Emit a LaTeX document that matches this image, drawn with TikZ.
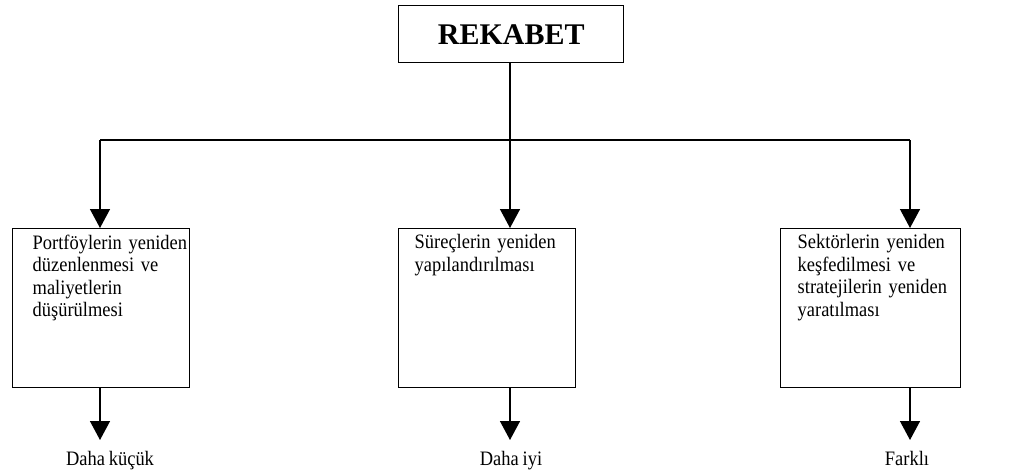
\documentclass[tikz,border=0pt]{standalone}
\usepackage{fontspec}
\setmainfont{Liberation Serif}
\newfontfamily\boxfont[FakeStretch=0.9,WordSpace=0.85]{Liberation Serif}
\usetikzlibrary{arrows.meta}
\begin{document}
\begin{tikzpicture}[x=1pt,y=-1pt,
  line width=1.4pt,
  box/.style={draw, rectangle, line width=1.4pt, inner sep=0pt, anchor=north west},
  boxtext/.style={anchor=north west, inner sep=0pt, text width=200pt, align=left,
    font=\boxfont\fontsize{20.5}{22.5}\selectfont},
  label/.style={anchor=base, inner sep=0pt, font=\boxfont\fontsize{20.5}{22.5}\selectfont},
  arr/.style={-{Triangle[length=19pt,width=20pt]}, line width=1.4pt}]
\useasboundingbox (0,0) rectangle (1011,472);

% heading box
\node[box, minimum width=225pt, minimum height=57pt] (top) at (398,5) {};
\node[inner sep=0pt, font=\fontsize{30}{34}\selectfont\bfseries] (title) at (top.center) {REKABET};

% distribution line
\coordinate (bus)  at (510,140);
\coordinate (busL) at (100,140);
\coordinate (busR) at (910,140);

% three boxes
\node[box, minimum width=177pt, minimum height=159pt] (b1) at (12,228) {};
\node[box, minimum width=177pt, minimum height=159pt] (b2) at (398,228) {};
\node[box, minimum width=180pt, minimum height=159pt] (b3) at (780,228) {};

\node[boxtext] (t1) at (32,234) {Portföylerin yeniden\\düzenlenmesi ve\\maliyetlerin\\düşürülmesi};
\node[boxtext] (t2) at (414,234) {Süreçlerin yeniden\\yapılandırılması};
\node[boxtext] (t3) at (797,234) {Sektörlerin yeniden\\keşfedilmesi ve\\stratejilerin yeniden\\yaratılması};

% results
\node[label] (r1) at (110,465) {Daha küçük};
\node[label] (r2) at (511,465) {Daha iyi};
\node[label] (r3) at (907,465) {Farklı};
\coordinate (e1) at (100,440);
\coordinate (e2) at (510,440);
\coordinate (e3) at (910,440);

% connectors
\draw (top.south -| bus) -- (bus);
\draw (busL) -- (busR);
\draw[arr] (busL) -- (busL |- b1.north);
\draw[arr] (bus)  -- (bus |- b2.north);
\draw[arr] (busR) -- (busR |- b3.north);
\draw[arr] (e1 |- b1.south) -- (e1);
\draw[arr] (e2 |- b2.south) -- (e2);
\draw[arr] (e3 |- b3.south) -- (e3);
\end{tikzpicture}
\end{document}
